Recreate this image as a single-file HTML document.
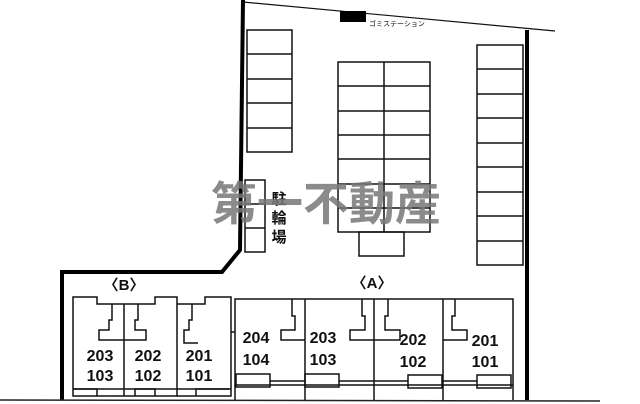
<!DOCTYPE html>
<html><head><meta charset="utf-8"><style>
html,body{margin:0;padding:0;background:#fff;}
svg{display:block;}
text{font-family:"Liberation Sans","Noto Sans CJK JP",sans-serif;}
</style></head><body>
<svg width="640" height="404" viewBox="0 0 640 404" xmlns="http://www.w3.org/2000/svg">
<g fill="none" stroke="#111" stroke-width="1.5">
<line x1="243" y1="2" x2="555" y2="31" stroke-width="1.2"/>
<rect x="247" y="30" width="45" height="122"/>
<line x1="247" y1="54" x2="292" y2="54"/><line x1="247" y1="79" x2="292" y2="79"/>
<line x1="247" y1="103" x2="292" y2="103"/><line x1="247" y1="128" x2="292" y2="128"/>
<rect x="245" y="180" width="20" height="72"/>
<line x1="245" y1="204" x2="265" y2="204"/><line x1="245" y1="228" x2="265" y2="228"/>
<rect x="338" y="62" width="92" height="170"/>
<line x1="384" y1="62" x2="384" y2="232"/>
<line x1="338" y1="86" x2="430" y2="86"/><line x1="338" y1="111" x2="430" y2="111"/>
<line x1="338" y1="135" x2="430" y2="135"/><line x1="338" y1="159" x2="430" y2="159"/>
<line x1="338" y1="184" x2="430" y2="184"/><line x1="338" y1="208" x2="430" y2="208"/>
<rect x="359" y="232" width="45" height="24"/>
<rect x="477" y="45" width="46" height="220"/>
<line x1="477" y1="69" x2="523" y2="69"/><line x1="477" y1="94" x2="523" y2="94"/>
<line x1="477" y1="118" x2="523" y2="118"/><line x1="477" y1="143" x2="523" y2="143"/>
<line x1="477" y1="167" x2="523" y2="167"/><line x1="477" y1="192" x2="523" y2="192"/>
<line x1="477" y1="216" x2="523" y2="216"/><line x1="477" y1="241" x2="523" y2="241"/>
<path d="M73,297 H97 V304 H155 V297 H177 V396 H73 Z"/>
<path d="M177,304 H205 V297 H231 V396 H177"/>
<line x1="124" y1="304" x2="124" y2="396"/>
<path d="M112,304 V320 H109 V330 H99 V340 H124"/>
<path d="M138,304 V320 H135 V330 H146 V340 H124"/>
<path d="M192,304 V320 H189 V330 H184 V343 H198"/>
<line x1="73" y1="389" x2="231" y2="389"/>
<path d="M73,389 H97 V396"/><path d="M135,396 V389 H155 V396"/><path d="M196,396 V389 H229"/>
<rect x="235" y="299" width="278" height="86"/>
<line x1="305" y1="299" x2="305" y2="400"/><line x1="374" y1="299" x2="374" y2="400"/><line x1="443" y1="299" x2="443" y2="400"/>
<line x1="235" y1="385" x2="235" y2="400"/><line x1="513" y1="385" x2="513" y2="400"/>
<path d="M292,299 V316 H295 V330 H281 V340 H305"/>
<path d="M362,299 V316 H365 V330 H350 V340 H374"/>
<path d="M388,299 V316 H385 V330 H400 V340 H374"/>
<path d="M455,299 V316 H452 V330 H467 V340 H443"/>
<rect x="236" y="374" width="34" height="13"/><rect x="305" y="374" width="34" height="13"/>
<rect x="408" y="375" width="34" height="13"/><rect x="477" y="375" width="34" height="13"/>
<line x1="270" y1="381" x2="305" y2="381"/><line x1="339" y1="381" x2="408" y2="381"/><line x1="442" y1="381" x2="477" y2="381"/>
<line x1="231" y1="332" x2="235" y2="332"/>
</g>
<path d="M243,0 L240,250 L222,272 L62,272 L62,400" fill="none" stroke="#000" stroke-width="4"/>
<line x1="527" y1="30" x2="527" y2="400" stroke="#000" stroke-width="4"/>
<line x1="0" y1="400" x2="600" y2="401" stroke="#222" stroke-width="1.5"/>
<rect x="340" y="11" width="26" height="11" fill="#000"/>
<text x="369" y="26" font-size="7" fill="#111">ゴミステーション</text>
<g font-size="16" font-weight="bold" fill="#111" text-anchor="middle">
<text x="279" y="204" font-size="15">駐</text><text x="279" y="223" font-size="15">輪</text><text x="279" y="242" font-size="15">場</text>
<text x="124" y="290" font-size="15">〈B〉</text><text x="372" y="288" font-size="15">〈A〉</text>
<text x="100" y="361">203</text><text x="100" y="381">103</text>
<text x="148" y="361">202</text><text x="148" y="381">102</text>
<text x="199" y="361">201</text><text x="199" y="381">101</text>
<text x="256" y="343">204</text><text x="256" y="365">104</text>
<text x="323" y="343">203</text><text x="323" y="365">103</text>
<text x="413" y="345">202</text><text x="413" y="367">102</text>
<text x="485" y="346">201</text><text x="485" y="367">101</text>
</g>
<text x="326" y="220" font-size="46" font-weight="bold" fill="#777" fill-opacity="0.85" text-anchor="middle" font-family="Noto Sans CJK JP,sans-serif">第一不動産</text>
</svg>
</body></html>
